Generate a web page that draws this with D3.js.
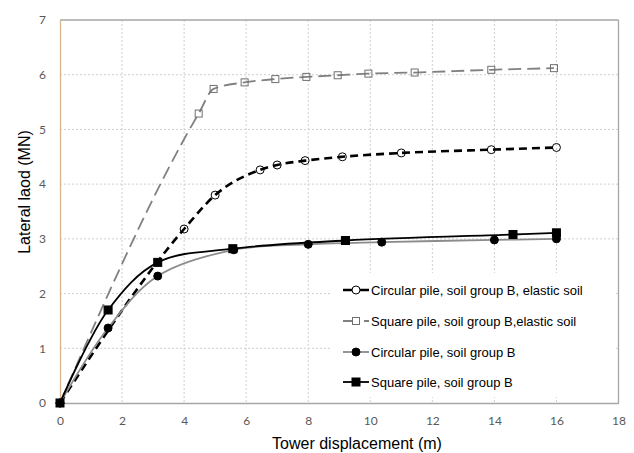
<!DOCTYPE html>
<html>
<head>
<meta charset="utf-8">
<script src="https://cdn.jsdelivr.net/npm/d3@7"></script>
<style>
  body { margin: 0; background: #fff; }
  svg { display: block; }
</style>
</head>
<body>
<svg id="chart" width="634" height="453"></svg>
<script>
// ---- data ----
const xTicks = [0, 2, 4, 6, 8, 10, 12, 14, 16, 18];
const yTicks = [0, 1, 2, 3, 4, 5, 6, 7];
const seriesNames = [
  "Circular pile, soil group B, elastic soil",
  "Square pile, soil group B,elastic soil",
  "Circular pile, soil group B",
  "Square pile, soil group B"
];
const circElasticX = [0, 4.0, 5.0, 6.45, 7.0, 7.9, 9.1, 11.0, 13.9, 16.0];
const circElasticY = [0, 3.18, 3.80, 4.26, 4.35, 4.43, 4.50, 4.57, 4.63, 4.67];
const sqElasticX = [0, 4.47, 4.95, 5.95, 6.94, 7.94, 8.95, 9.94, 11.43, 13.9, 15.92];
const sqElasticY = [0, 5.29, 5.74, 5.86, 5.92, 5.96, 5.99, 6.02, 6.04, 6.09, 6.12];
const circX = [0, 1.55, 3.15, 5.6, 8.0, 10.37, 14.0, 16.0];
const circY = [0, 1.37, 2.32, 2.80, 2.90, 2.94, 2.98, 3.00];
const sqX = [0, 1.55, 3.15, 5.57, 9.2, 14.6, 16.0];
const sqY = [0, 1.70, 2.57, 2.82, 2.97, 3.08, 3.11];

// ---- layout ----
const svg = d3.select("#chart");
const L = 60, R = 618.5, T = 20, B = 403;
const x = d3.scaleLinear().domain([0, 18]).range([L, R]);
const y = d3.scaleLinear().domain([0, 7]).range([B, T]);

// grid
const grid = svg.append("g");
grid.selectAll("line.vg").data(xTicks.filter(d => d > 0 && d < 18)).join("line")
  .attr("x1", d => x(d)).attr("x2", d => x(d)).attr("y1", T).attr("y2", B)
  .attr("stroke", "#cfcfcf").attr("stroke-width", 1).attr("stroke-dasharray", "2,2");
grid.selectAll("line.hg").data(yTicks.filter(d => d > 0 && d < 7)).join("line")
  .attr("x1", L).attr("x2", R).attr("y1", d => y(d)).attr("y2", d => y(d))
  .attr("stroke", "#cfcfcf").attr("stroke-width", 1).attr("stroke-dasharray", "2,2");

// frame (top, right)
svg.append("line").attr("x1", L).attr("x2", R).attr("y1", T).attr("y2", T)
  .attr("stroke", "#a6a6a6").attr("stroke-width", 1.3);
svg.append("line").attr("x1", R).attr("x2", R).attr("y1", T).attr("y2", B)
  .attr("stroke", "#a6a6a6").attr("stroke-width", 1.3);

// axes
const xAxis = svg.append("g").attr("transform", `translate(0,${B})`)
  .call(d3.axisBottom(x).tickValues(xTicks).tickFormat(d3.format("d")).tickSize(0).tickPadding(13));
xAxis.select(".domain").attr("stroke", "#a6a6a6").attr("stroke-width", 1.3);
xAxis.selectAll("text").attr("font-family", "Lato, 'Open Sans', sans-serif")
  .attr("font-size", 12).attr("fill", "#595959");

const yAxis = svg.append("g").attr("transform", `translate(${L},0)`)
  .call(d3.axisLeft(y).tickValues(yTicks).tickFormat(d3.format("d")).tickSize(0).tickPadding(14));
yAxis.select(".domain").attr("stroke", "#d9b48c").attr("stroke-width", 1.3);
yAxis.selectAll("text").attr("font-family", "Lato, 'Open Sans', sans-serif")
  .attr("font-size", 12).attr("fill", "#595959");

// titles
svg.append("text").attr("x", 357).attr("y", 449).attr("text-anchor", "middle")
  .attr("font-family", "'Liberation Sans', Arial, sans-serif").attr("font-size", 16)
  .attr("fill", "#000").text("Tower displacement (m)");
svg.append("text").attr("transform", "translate(30,192) rotate(-90)").attr("text-anchor", "middle")
  .attr("font-family", "'Liberation Sans', Arial, sans-serif").attr("font-size", 16)
  .attr("fill", "#000").text("Lateral laod (MN)");

// series
const zip = (xs, ys) => xs.map((v, i) => [v, ys[i]]);
const series = [
  { name: seriesNames[0], pts: zip(circElasticX, circElasticY), stroke: "#000", width: 2.6, dash: "8,5", legDash: "9,8", marker: "circle", mStroke: "#000", mFill: "none", curve: d3.curveMonotoneX },
  { name: seriesNames[1], pts: zip(sqElasticX, sqElasticY), stroke: "#808080", width: 1.8, dash: "13,6", legDash: "9,12,5", marker: "square", mStroke: "#707070", mFill: "none", curve: d3.curveMonotoneX },
  { name: seriesNames[2], pts: zip(circX, circY), stroke: "#8c8c8c", width: 1.8, dash: null, legDash: null, marker: "circle", mStroke: "#000", mFill: "#000", curve: d3.curveCatmullRom.alpha(0.5) },
  { name: seriesNames[3], pts: zip(sqX, sqY), stroke: "#000", width: 1.8, dash: null, legDash: null, marker: "square", mStroke: "#000", mFill: "#000", curve: d3.curveCatmullRom.alpha(0.5) }
];

function drawMarker(g, kind, cx, cy, s) {
  if (kind === "circle") {
    g.append("circle").attr("cx", cx).attr("cy", cy).attr("r", 4)
      .attr("fill", s.mFill).attr("stroke", s.mStroke).attr("stroke-width", 1);
  } else {
    const h = s.mFill === "none" ? 7 : 8;
    g.append("rect").attr("x", cx - h / 2).attr("y", cy - h / 2).attr("width", h).attr("height", h)
      .attr("fill", s.mFill).attr("stroke", s.mStroke).attr("stroke-width", 1);
  }
}

series.forEach(s => {
  const g = svg.append("g");
  const line = d3.line().x(d => x(d[0])).y(d => y(d[1])).curve(s.curve);
  g.append("path").attr("d", line(s.pts)).attr("fill", "none")
    .attr("stroke", s.stroke).attr("stroke-width", s.width)
    .attr("stroke-dasharray", s.dash);
  s.pts.forEach(p => drawMarker(g, s.marker, x(p[0]), y(p[1]), s));
});

// legend
const lg = svg.append("g");
lg.append("rect").attr("x", 330).attr("y", 273).attr("width", 286).attr("height", 124).attr("fill", "#fff");
const rowY = [290, 321, 352, 382];
series.forEach((s, i) => {
  const ly = rowY[i];
  lg.append("line").attr("x1", 343).attr("x2", 369).attr("y1", ly).attr("y2", ly)
    .attr("stroke", s.stroke).attr("stroke-width", s.width)
    .attr("stroke-dasharray", s.legDash);
  drawMarker(lg, s.marker, 356, ly, s);
  lg.append("text").attr("x", 371).attr("y", ly + 4.5)
    .attr("font-family", "'Liberation Sans', Arial, sans-serif").attr("font-size", 13)
    .attr("fill", "#000").text(s.name);
});
</script>
</body>
</html>
